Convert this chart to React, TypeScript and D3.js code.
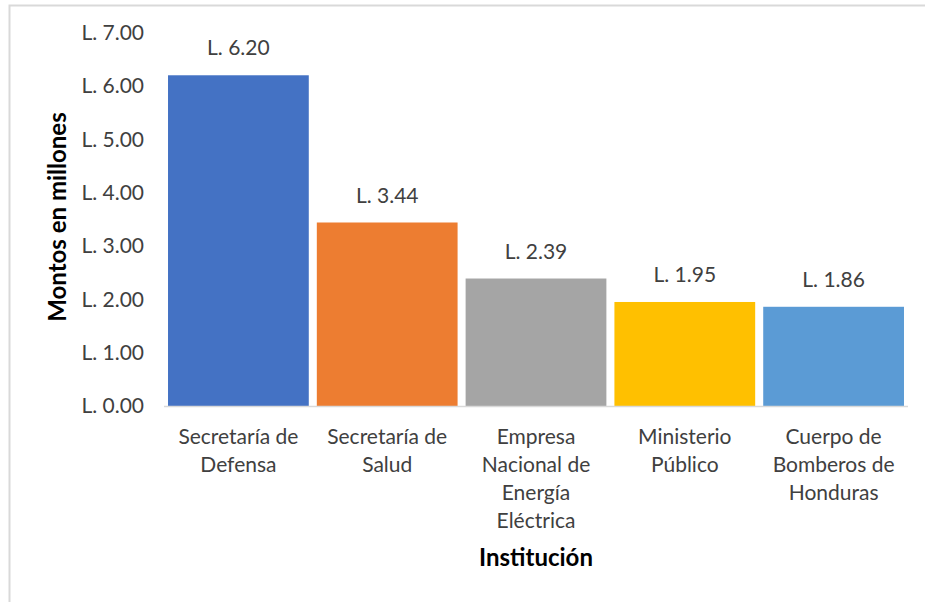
import React from "react";
import * as d3 from "d3";

const categories: string[][] = [
  ["Secretaría de", "Defensa"],
  ["Secretaría de", "Salud"],
  ["Empresa", "Nacional de", "Energía", "Eléctrica"],
  ["Ministerio", "Público"],
  ["Cuerpo de", "Bomberos de", "Honduras"],
];
const values: number[] = [6.2, 3.44, 2.39, 1.95, 1.86];
const colors: string[] = ["#4472C4", "#ED7D31", "#A5A5A5", "#FFC000", "#5B9BD5"];
const yTicks: number[] = [0, 1, 2, 3, 4, 5, 6, 7];
const yTitle = "Montos en millones";
const xTitle = "Institución";

const W = 925;
const H = 602;
const FONT = "Lato, 'Open Sans', sans-serif";

export default function App() {
  const left = 164;
  const right = 908;
  const top = 32.6;
  const bottom = 406;
  const keys = categories.map((_, i) => String(i));
  const x = d3.scaleBand<string>().domain(keys).range([left, right]).paddingInner(0.054).paddingOuter(0.027);
  const y = d3.scaleLinear().domain([0, 7]).range([bottom, top]);
  const fmt = (v: number) => "L. " + d3.format(".2f")(v);

  return (
    <svg width={W} height={H} style={{ position: "absolute", left: 0, top: 0, background: "#fff" }}>
      <rect x={9.5} y={5.5} width={W + 10} height={H + 10} fill="#fff" stroke="#d9d9d9" strokeWidth={2} />
      {values.map((v, i) => (
        <rect key={i} x={x(String(i))} y={y(v)} width={x.bandwidth()} height={y(0) - y(v)} fill={colors[i]} />
      ))}
      <line x1={left} x2={right} y1={bottom + 0.5} y2={bottom + 0.5} stroke="#d9d9d9" strokeWidth={1.5} />
      {yTicks.map((t) => (
        <text key={t} x={144} y={y(t)} dy="0.35em" textAnchor="end" fontFamily={FONT} fontSize={21} fill="#404040">
          {fmt(t)}
        </text>
      ))}
      {values.map((v, i) => (
        <text key={i} x={(x(String(i)) as number) + x.bandwidth() / 2} y={y(v) - 20} textAnchor="middle" fontFamily={FONT} fontSize={21} fill="#404040">
          {fmt(v)}
        </text>
      ))}
      {categories.map((lines, i) => (
        <text key={i} textAnchor="middle" fontFamily={FONT} fontSize={21} fill="#404040">
          {lines.map((l, j) => (
            <tspan key={j} x={(x(String(i)) as number) + x.bandwidth() / 2} y={437 + j * 28} dy="0.35em">
              {l}
            </tspan>
          ))}
        </text>
      ))}
      <text x={536} y={558} dy="0.35em" textAnchor="middle" fontFamily={FONT} fontSize={24} fontWeight="bold" fill="#000">
        {xTitle}
      </text>
      <text transform={`translate(66,217) rotate(-90)`} textAnchor="middle" fontFamily={FONT} fontSize={24} fontWeight="bold" fill="#000">
        {yTitle}
      </text>
    </svg>
  );
}
